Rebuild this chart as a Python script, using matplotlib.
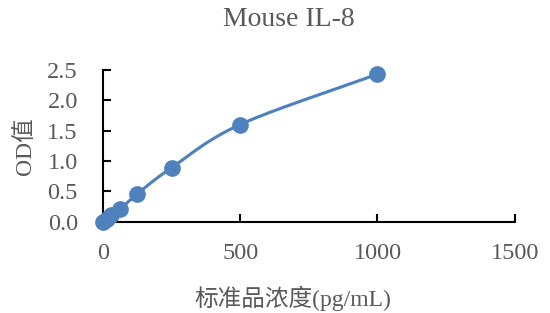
import numpy as np
import matplotlib
matplotlib.use("Agg")
import matplotlib.pyplot as plt

conc = [0, 15.6, 31.25, 62.5, 125, 250, 500, 1000]
od = [0.0, 0.05, 0.11, 0.21, 0.46, 0.89, 1.60, 2.43]
title = "Mouse IL-8"
xlabel = "标准品浓度(pg/mL)"
ylabel = "OD值"
xticks = [0, 500, 1000, 1500]
yticks = [0.0, 0.5, 1.0, 1.5, 2.0, 2.5]

fam = ["Liberation Serif", "Noto Sans CJK SC"]
gray = "#595959"
blue = "#4F81BD"

def smooth(x, y, n=30):
    # Catmull-Rom style smoothing through the data points (like Excel smoothed line)
    x = np.asarray(x, float); y = np.asarray(y, float)
    px = np.concatenate([[2*x[0]-x[1]], x, [2*x[-1]-x[-2]]])
    py = np.concatenate([[2*y[0]-y[1]], y, [2*y[-1]-y[-2]]])
    xs, ys = [], []
    for i in range(1, len(px)-2):
        p0, p1, p2, p3 = np.array([px[i-1], py[i-1]]), np.array([px[i], py[i]]), np.array([px[i+1], py[i+1]]), np.array([px[i+2], py[i+2]])
        t = np.linspace(0, 1, n)[:, None]
        c1 = p1 + (p2 - p0) / 6
        c2 = p2 - (p3 - p1) / 6
        pts = (1-t)**3*p1 + 3*(1-t)**2*t*c1 + 3*(1-t)*t**2*c2 + t**3*p2
        xs.extend(pts[:, 0]); ys.extend(pts[:, 1])
    return xs, ys

fig = plt.figure(figsize=(5.5, 3.13), dpi=100)
ax = fig.add_axes([0.187, 0.291, 0.749, 0.486])
sx, sy = smooth(conc, od)
ax.plot(sx, sy, color=blue, lw=2.25, zorder=2, clip_on=False)
ax.plot(conc, od, "o", color=blue, ms=11, zorder=3, clip_on=False)
ax.set_xlim(0, 1500)
ax.set_ylim(0, 2.5)
ax.set_xticks(xticks)
ax.set_yticks(yticks)
ax.set_yticklabels([f"{v:.1f}" for v in yticks])
for s in ["top", "right"]:
    ax.spines[s].set_visible(False)
for s in ["left", "bottom"]:
    ax.spines[s].set_linewidth(1.5)
    ax.spines[s].set_color("black")
ax.tick_params(direction="in", length=6, width=1.5, labelsize=17.5, labelcolor=gray)
ax.tick_params(axis="y", pad=18)
ax.tick_params(axis="x", pad=15)
for lab in ax.get_xticklabels() + ax.get_yticklabels():
    lab.set_family(fam)
ax.text(0.451, 1.33, title, transform=ax.transAxes, ha="center", va="center",
        fontsize=20, color=gray, family=fam)
ax.set_xlabel(xlabel, fontsize=17, color=gray, family=fam)
ax.xaxis.set_label_coords(0.461, -0.5)
ax.xaxis.label.set_va("center")
ax.set_ylabel(ylabel, fontsize=17, color=gray, family=fam)
ax.yaxis.set_label_coords(-0.19, 0.5)
ax.yaxis.label.set_va("center")
ax.patch.set_alpha(0)
fig.savefig("out.png", dpi=100)
